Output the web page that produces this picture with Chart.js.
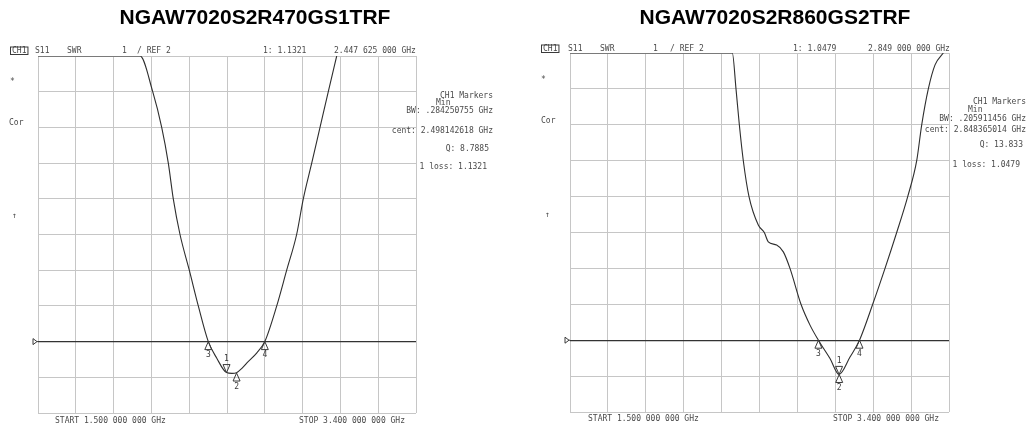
<!DOCTYPE html>
<html>
<head>
<meta charset="utf-8">
<title>SWR sweeps</title>
<script src="https://cdn.jsdelivr.net/npm/chart.js@4.4.1/dist/chart.umd.min.js"></script>
<style>
  html, body { margin: 0; padding: 0; background: #fff; }
  body { width: 1027px; height: 426px; position: relative; overflow: hidden; }
  .screen { position: absolute; top: 0; height: 426px; }
  #left { left: 0; width: 513px; }
  #right { left: 513px; width: 514px; }
</style>
</head>
<body>
<div class="screen" id="left"><canvas id="leftChart"></canvas></div>
<div class="screen" id="right"><canvas id="rightChart"></canvas></div>
<script>
// Axis grid: 1.5 - 3.4 GHz sweep, SWR 1/div with REF 2
const FREQ_TICKS = [1.5, 1.69, 1.88, 2.07, 2.26, 2.45, 2.64, 2.83, 3.02, 3.21, 3.4];
const SWR_TICKS = [0, 1, 2, 3, 4, 5, 6, 7, 8, 9, 10];
const REF_SWR = 2;

// Part titles
const LEFT_TITLE = 'NGAW7020S2R470GS1TRF';
const RIGHT_TITLE = 'NGAW7020S2R860GS2TRF';

// Trace (GHz / SWR)
const LEFT_FREQ = [1.5, 2.0127, 2.0766, 2.1218, 2.155, 2.18, 2.2138, 2.2605, 2.3057, 2.356,
  2.398, 2.4476, 2.475, 2.498, 2.525, 2.549, 2.599, 2.64, 2.70, 2.75, 2.80, 2.8335,
  2.8758, 2.9175, 2.9592, 3.0014];
const LEFT_SWR = [10, 10, 9, 8, 7, 6, 5, 4, 3, 2,
  1.54, 1.1321, 1.11, 1.13, 1.25, 1.4, 1.68, 2, 3, 4, 5, 6,
  7, 8, 9, 10];

// Trace (GHz / SWR)
const RIGHT_FREQ = [1.5, 2.3137, 2.3322, 2.3489, 2.3688, 2.3974, 2.444, 2.474, 2.494, 2.536,
  2.5695, 2.6029, 2.658, 2.7032, 2.7454, 2.8035, 2.849, 2.9037, 2.9513, 3.0175,
  3.0792, 3.1378, 3.193, 3.2381, 3.2632, 3.2963, 3.33, 3.3714];
const RIGHT_SWR = [10, 10, 9, 8, 7, 6, 5.21, 5, 4.74, 4.65,
  4.46, 4, 3, 2.42, 2, 1.49, 1.0479, 1.53, 2, 3,
  4, 5, 6, 7, 8, 9, 9.67, 10];

// Markers 1..4 (1 = marker, 2 = min, 3/4 = bandwidth edges)
const MARKER_IDS = ['1', '2', '3', '4'];
const MARKER_POINTS_DOWN = [true, false, false, false];
const LEFT_MARKER_FREQ = [2.4476, 2.4981, 2.356, 2.640];
const LEFT_MARKER_SWR = [1.1321, 1.12, 2, 2];
const RIGHT_MARKER_FREQ = [2.849, 2.8495, 2.7454, 2.9513];
const RIGHT_MARKER_SWR = [1.0479, 1.045, 2, 2];

// Screen readouts, [text, x, y, align, boxed] in page pixels
const LEFT_TEXTS = [
  ['CH1', 12, 51, 'left', true], ['S11', 35, 51], ['SWR', 67, 51], ['1', 122, 51],
  ['/ REF 2', 137, 51], ['1: 1.1321', 263, 51], ['2.447 625 000 GHz', 334, 51],
  ['*', 10, 82], ['Cor', 9, 123], ['\u2191', 12, 216],
  ['CH1 Markers', 493, 96, 'right'], ['Min', 436, 102.5],
  ['BW: .284250755 GHz', 493, 111, 'right'], ['cent: 2.498142618 GHz', 493, 131, 'right'],
  ['Q: 8.7885', 489, 149, 'right'], ['1 loss: 1.1321', 487, 167, 'right'],
  ['START 1.500 000 000 GHz', 55, 421], ['STOP 3.400 000 000 GHz', 299, 421]
];
const RIGHT_TEXTS = [
  ['CH1', 543, 49, 'left', true], ['S11', 568, 49], ['SWR', 600, 49], ['1', 653, 49],
  ['/ REF 2', 670, 49], ['1: 1.0479', 793, 49], ['2.849 000 000 GHz', 868, 49],
  ['*', 541, 80], ['Cor', 541, 121], ['\u2191', 545, 215],
  ['CH1 Markers', 1026, 101.5, 'right'], ['Min', 968, 109.5],
  ['BW: .205911456 GHz', 1026, 118.5, 'right'], ['cent: 2.848365014 GHz', 1026, 130, 'right'],
  ['Q: 13.833', 1023, 145, 'right'], ['1 loss: 1.0479', 1020, 165, 'right'],
  ['START 1.500 000 000 GHz', 588, 419], ['STOP 3.400 000 000 GHz', 833, 419]
];

const INK = '#3a3a3a';
const MONO = '8px "DejaVu Sans Mono", monospace';

// draws the title, the analyzer readouts, the REF arrow and the marker triangles
const vnaScreen = {
  id: 'vnaScreen',
  afterDatasetsDraw(chart, args, opts) {
    const ctx = chart.ctx;
    const xs = chart.scales.x, ys = chart.scales.y;
    const area = chart.chartArea;
    const off = opts.offsetX;
    ctx.save();

    // title
    ctx.fillStyle = '#000';
    ctx.font = 'bold 21px "Liberation Sans", Arial, sans-serif';
    ctx.textAlign = 'center';
    ctx.textBaseline = 'alphabetic';
    ctx.fillText(opts.title, opts.titleX - off, 24);

    // reference level arrow on the left edge
    const ry = ys.getPixelForValue(REF_SWR);
    ctx.strokeStyle = INK;
    ctx.lineWidth = 1;
    ctx.beginPath();
    ctx.moveTo(area.left - 5, ry - 3);
    ctx.lineTo(area.left - 1, ry);
    ctx.lineTo(area.left - 5, ry + 3);
    ctx.closePath();
    ctx.moveTo(area.left - 1, ry);
    ctx.lineTo(area.left, ry);
    ctx.stroke();

    // marker triangles + numbers
    ctx.font = MONO;
    ctx.fillStyle = INK;
    ctx.textAlign = 'center';
    ctx.textBaseline = 'middle';
    opts.markerFreq.forEach((f, i) => {
      const px = xs.getPixelForValue(f);
      const py = ys.getPixelForValue(opts.markerSwr[i]);
      const dir = MARKER_POINTS_DOWN[i] ? -1 : 1;
      ctx.beginPath();
      ctx.moveTo(px, py);
      ctx.lineTo(px - 3.5, py + dir * 8);
      ctx.lineTo(px + 3.5, py + dir * 8);
      ctx.closePath();
      ctx.stroke();
      ctx.fillText(MARKER_IDS[i], px, py + dir * 13.5);
    });

    // readouts
    ctx.fillStyle = '#4a4a4a';
    opts.texts.forEach(([txt, x, y, align, boxed]) => {
      ctx.textAlign = align || 'left';
      ctx.fillText(txt, x - off, y);
      if (boxed) {
        const w = ctx.measureText(txt).width;
        ctx.strokeRect(x - off - 1.5, y - 4, w + 3, 7.5);
      }
    });
    ctx.restore();
  }
};

function makeChart(canvasId, freq, swr, padding, plug) {
  return new Chart(document.getElementById(canvasId), {
    type: 'line',
    data: {
      datasets: [{
        data: freq.map((f, i) => ({ x: f, y: swr[i] })),
        borderColor: '#2e2e2e',
        borderWidth: 1.1,
        pointRadius: 0,
        cubicInterpolationMode: 'monotone',
        fill: false
      }]
    },
    options: {
      responsive: true,
      maintainAspectRatio: false,
      animation: false,
      events: [],
      layout: { padding: padding },
      plugins: {
        legend: { display: false },
        tooltip: { enabled: false },
        title: { display: false },
        vnaScreen: plug
      },
      scales: {
        x: {
          type: 'linear',
          min: FREQ_TICKS[0],
          max: FREQ_TICKS[FREQ_TICKS.length - 1],
          afterBuildTicks: s => { s.ticks = FREQ_TICKS.map(v => ({ value: v })); },
          afterFit: s => { s.height = 0; },
          ticks: { display: false },
          border: { display: false },
          grid: { color: '#c6c6c6', lineWidth: 1, drawTicks: false }
        },
        y: {
          min: SWR_TICKS[0],
          max: SWR_TICKS[SWR_TICKS.length - 1],
          afterBuildTicks: s => { s.ticks = SWR_TICKS.map(v => ({ value: v })); },
          afterFit: s => { s.width = 0; },
          ticks: { display: false },
          border: { display: false },
          grid: {
            drawTicks: false,
            color: c => (c.tick && c.tick.value === REF_SWR ? '#333' : '#c6c6c6'),
            lineWidth: c => (c.tick && c.tick.value === REF_SWR ? 1.3 : 1)
          }
        }
      }
    },
    plugins: [vnaScreen]
  });
}

makeChart('leftChart', LEFT_FREQ, LEFT_SWR,
  { left: 38, top: 56, right: 97, bottom: 13 },
  { offsetX: 0, title: LEFT_TITLE, titleX: 255, texts: LEFT_TEXTS,
    markerFreq: LEFT_MARKER_FREQ, markerSwr: LEFT_MARKER_SWR });

makeChart('rightChart', RIGHT_FREQ, RIGHT_SWR,
  { left: 57, top: 53, right: 78, bottom: 14 },
  { offsetX: 513, title: RIGHT_TITLE, titleX: 775, texts: RIGHT_TEXTS,
    markerFreq: RIGHT_MARKER_FREQ, markerSwr: RIGHT_MARKER_SWR });
</script>
</body>
</html>
